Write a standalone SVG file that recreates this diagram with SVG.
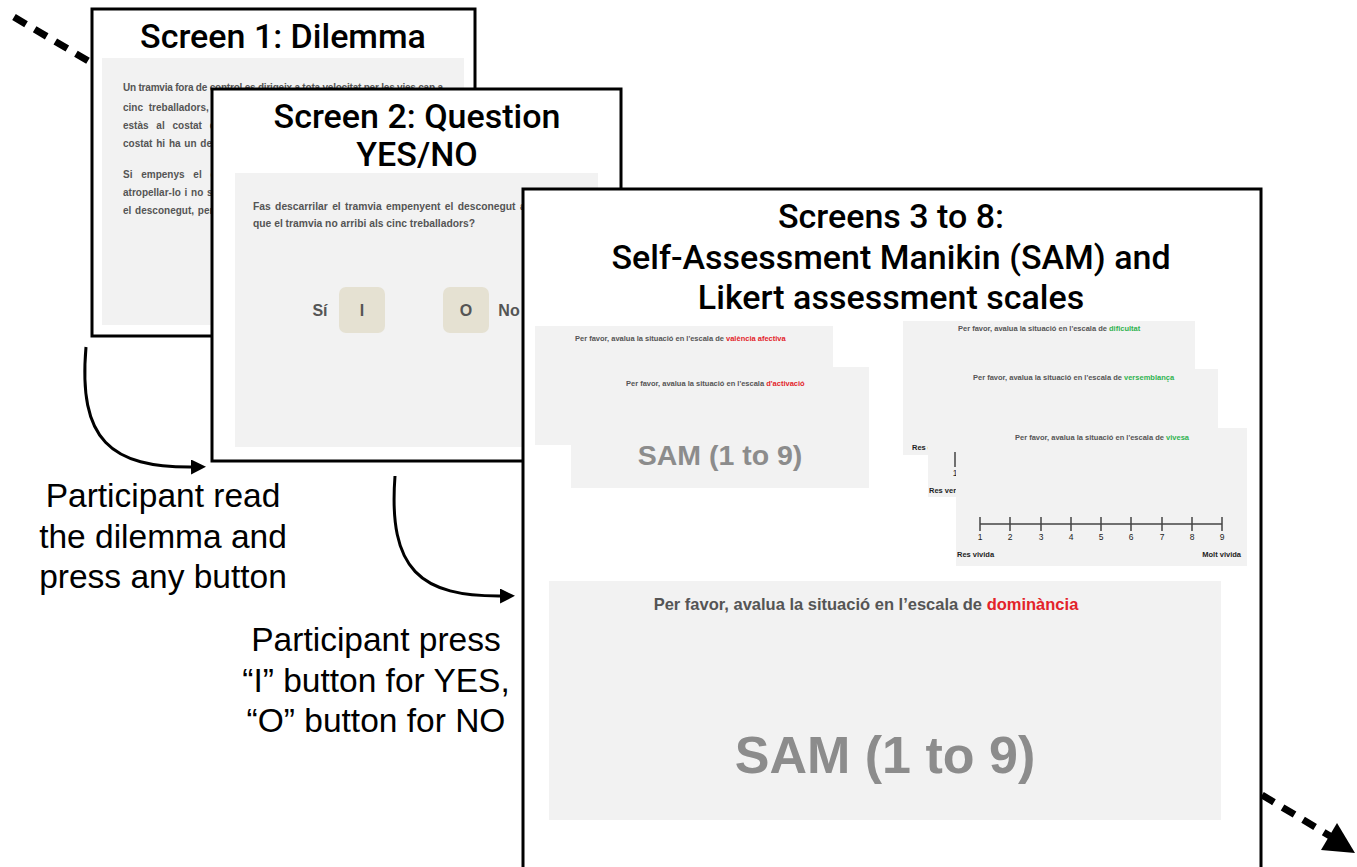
<svg xmlns="http://www.w3.org/2000/svg" width="1357" height="867" viewBox="0 0 1357 867">
<style>
.frame{fill:#fff;stroke:#000;stroke-width:3}
.panel{fill:#f2f2f2}
.title{font-family:Roboto,"Liberation Sans",sans-serif;font-weight:500;font-size:34px;fill:#000;text-anchor:middle}
.label{font-family:"Liberation Sans",Arial,sans-serif;font-size:33.5px;fill:#000;text-anchor:middle}
.body{font-family:"Liberation Sans",Arial,sans-serif;font-weight:bold;font-size:10px;fill:#555}
.small{font-family:"Liberation Sans",Arial,sans-serif;font-weight:bold;font-size:7.5px;fill:#555}
.dark{fill:#222}
.red{fill:#e3232a}
.green{fill:#2fb34f}
.sam{font-family:"Liberation Sans",Arial,sans-serif;font-weight:bold;fill:#8c8c8c;text-anchor:middle}
.btn{fill:#e5e1d2}
.btxt{font-family:"Liberation Sans",Arial,sans-serif;font-weight:bold;font-size:16px;fill:#555;text-anchor:middle}
.dash{stroke:#000;stroke-width:7;stroke-dasharray:14 10;fill:none}
.curve{stroke:#000;stroke-width:3;fill:none}
.num{font-family:"Liberation Sans",Arial,sans-serif;font-size:8.5px;fill:#222;text-anchor:middle}
.scale{stroke:#444;stroke-width:1.5}
</style>
<defs>
<marker id="ah" viewBox="0 0 10 10" refX="2" refY="5" markerWidth="5" markerHeight="5" orient="auto" markerUnits="strokeWidth">
<path d="M0,0 L10,5 L0,10 Z" fill="#000"/>
</marker>
</defs>

<g id="connectors-back">
<line class="dash" x1="14" y1="17" x2="95" y2="65"/>
</g>

<g id="screen1">
<rect class="frame" x="92" y="9" width="383" height="327"/>
<text class="title" x="283" y="48">Screen 1: Dilemma</text>
<rect class="panel" x="102" y="58" width="362" height="267"/>
<text class="body" x="123" y="91" textLength="320" lengthAdjust="spacing">Un tramvia fora de control es dirigeix a tota velocitat per les vies cap a</text>
<text class="body" x="123" y="111" word-spacing="3">cinc treballadors, c</text>
<text class="body" x="123" y="129" word-spacing="5">estàs al costat de</text>
<text class="body" x="123" y="147" word-spacing="1">costat hi ha un desc</text>
<text class="body" x="123" y="178" word-spacing="6">Si empenys el de</text>
<text class="body" x="123" y="196" word-spacing="1">atropellar-lo i no se</text>
<text class="body" x="123" y="214" word-spacing="1">el desconegut, però</text>
</g>

<g id="screen2">
<rect class="frame" x="212" y="89" width="409" height="372"/>
<text class="title" x="417" y="128">Screen 2: Question</text>
<text class="title" x="417" y="166">YES/NO</text>
<rect class="panel" x="235" y="173" width="363" height="274"/>
<text class="body" x="253" y="210" style="font-size:10.3px" word-spacing="1.5">Fas descarrilar el tramvia empenyent el desconegut a le</text>
<text class="body" x="253" y="227" style="font-size:10.3px">que el tramvia no arribi als cinc treballadors?</text>
<text class="btxt" x="320" y="316">Sí</text>
<rect class="btn" x="339" y="287" width="46" height="46" rx="7"/>
<text class="btxt" x="362" y="316">I</text>
<rect class="btn" x="443" y="287" width="46" height="46" rx="7"/>
<text class="btxt" x="466" y="316">O</text>
<text class="btxt" x="509" y="316">No</text>
</g>

<g id="screen3">
<rect class="frame" x="523" y="189" width="738" height="700"/>
<text class="title" x="891" y="228">Screens 3 to 8:</text>
<text class="title" x="891" y="269">Self-Assessment Manikin (SAM) and</text>
<text class="title" x="891" y="309">Likert assessment scales</text>

<g id="sam-valencia">
<rect class="panel" x="535" y="326" width="298" height="119"/>
<text class="small" x="575" y="341">Per favor, avalua la situació en l'escala de <tspan class="red">valència afectiva</tspan></text>
</g>
<g id="sam-activacio">
<rect class="panel" x="571" y="367" width="298" height="121"/>
<text class="small" x="626" y="386">Per favor, avalua la situació en l'escala <tspan class="red">d'activació</tspan></text>
<text class="sam" x="720" y="465" style="font-size:28.5px">SAM (1 to 9)</text>
</g>

<g id="likert-dificultat">
<rect class="panel" x="903" y="321" width="292" height="134"/>
<text class="small" x="958" y="331">Per favor, avalua la situació en l'escala de <tspan class="green">dificultat</tspan></text>
<text class="small dark" x="912" y="450">Res d</text>
</g>
<g id="likert-versemblanca">
<rect class="panel" x="928" y="369" width="290" height="128"/>
<text class="small" x="973" y="380">Per favor, avalua la situació en l'escala de <tspan class="green">versemblança</tspan></text>
<line class="scale" x1="955" y1="452" x2="955" y2="467"/>
<text class="num" x="955" y="476">1</text>
<text class="small dark" x="929" y="493">Res vers</text>
</g>
<g id="likert-vivesa">
<rect class="panel" x="956" y="428" width="291" height="138"/>
<text class="small" x="1015" y="440">Per favor, avalua la situació en l'escala de <tspan class="green">vivesa</tspan></text>
<line class="scale" x1="980" y1="524" x2="1222" y2="524"/>
<g class="scale">
<line x1="980" y1="517" x2="980" y2="531"/>
<line x1="1010" y1="517" x2="1010" y2="531"/>
<line x1="1041" y1="517" x2="1041" y2="531"/>
<line x1="1071" y1="517" x2="1071" y2="531"/>
<line x1="1101" y1="517" x2="1101" y2="531"/>
<line x1="1131" y1="517" x2="1131" y2="531"/>
<line x1="1162" y1="517" x2="1162" y2="531"/>
<line x1="1192" y1="517" x2="1192" y2="531"/>
<line x1="1222" y1="517" x2="1222" y2="531"/>
</g>
<text class="num" x="980" y="540">1</text>
<text class="num" x="1010" y="540">2</text>
<text class="num" x="1041" y="540">3</text>
<text class="num" x="1071" y="540">4</text>
<text class="num" x="1101" y="540">5</text>
<text class="num" x="1131" y="540">6</text>
<text class="num" x="1162" y="540">7</text>
<text class="num" x="1192" y="540">8</text>
<text class="num" x="1222" y="540">9</text>
<text class="small dark" x="957" y="557">Res vivida</text>
<text class="small dark" x="1241" y="557" text-anchor="end">Molt vivida</text>
</g>

<g id="sam-dominancia">
<rect class="panel" x="549" y="581" width="672" height="239"/>
<text class="body" x="866" y="610" style="font-size:16.5px" text-anchor="middle">Per favor, avalua la situació en l’escala de <tspan class="red">dominància</tspan></text>
<text class="sam" x="885" y="773" style="font-size:52px">SAM (1 to 9)</text>
</g>
</g>

<g id="label-read">
<text class="label" x="163" y="507">Participant read</text>
<text class="label" x="163" y="548">the dilemma and</text>
<text class="label" x="163" y="588">press any button</text>
</g>
<g id="label-press">
<text class="label" x="376" y="651">Participant press</text>
<text class="label" x="376" y="692">“I” button for YES,</text>
<text class="label" x="376" y="732">“O” button for NO</text>
</g>

<g id="connectors">
<path class="curve" d="M86,347 C78,440 110,468 194,467" marker-end="url(#ah)"/>
<path class="curve" d="M395,476 C388,570 420,597 503,596" marker-end="url(#ah)"/>
<line class="dash" x1="1262" y1="795" x2="1330" y2="836"/>
<polygon points="1355,853 1321,850 1337,823" fill="#000"/>
</g>
</svg>
